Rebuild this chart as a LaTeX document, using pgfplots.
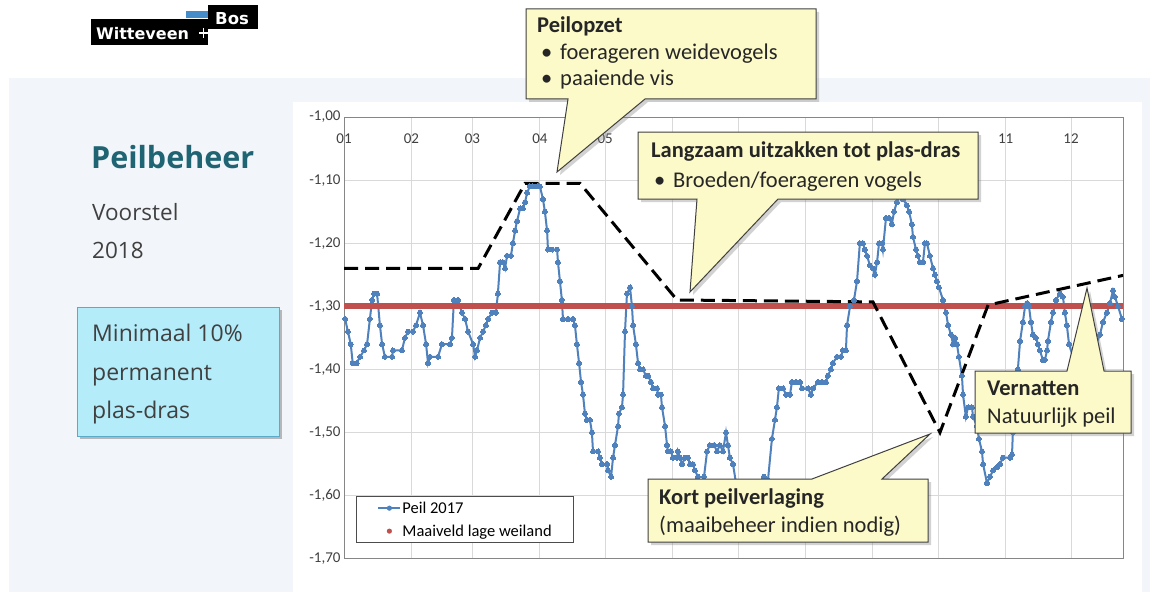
\documentclass[border=0pt]{standalone}
\usepackage{fontspec}
\setmainfont{Carlito}
\newfontfamily\osans{Open Sans}
\newfontfamily\dsans{DejaVu Sans}
\usepackage{pgfplots}
\pgfplotsset{compat=1.18}
\usetikzlibrary{shadows}

\definecolor{panel}{RGB}{242,245,249}
\definecolor{peilblue}{RGB}{79,129,189}
\definecolor{maaired}{RGB}{192,80,77}
\definecolor{callfill}{RGB}{252,250,200}
\definecolor{cyanfill}{RGB}{180,236,250}
\definecolor{cyanedge}{RGB}{90,170,200}
\definecolor{titleteal}{RGB}{30,100,115}
\definecolor{txtgray}{RGB}{64,64,64}
\definecolor{gridgray}{RGB}{217,217,217}
\definecolor{axgray}{RGB}{134,134,134}
\definecolor{logoblue}{RGB}{70,140,200}

\pgfplotstableread{
day val
0.5 -1.32
1.8 -1.34
3.1 -1.36
4.0 -1.39
5.8 -1.39
7.4 -1.38
9.2 -1.37
10.6 -1.36
11.9 -1.32
12.9 -1.29
13.8 -1.28
15.2 -1.28
16.5 -1.33
17.5 -1.36
18.8 -1.38
22.1 -1.38
22.5 -1.37
26.6 -1.37
28.0 -1.35
29.4 -1.34
31.7 -1.34
33.1 -1.33
34.9 -1.31
36.3 -1.33
37.7 -1.36
38.6 -1.39
39.5 -1.38
43.2 -1.38
45.0 -1.36
48.7 -1.36
49.6 -1.35
50.5 -1.29
52.4 -1.29
54.2 -1.31
55.6 -1.32
57.0 -1.34
59.3 -1.36
60.2 -1.38
61.1 -1.37
62.5 -1.35
63.9 -1.34
65.2 -1.33
66.2 -1.32
68.0 -1.31
69.8 -1.31
70.7 -1.28
71.7 -1.23
73.0 -1.23
74.0 -1.24
74.9 -1.22
76.7 -1.22
77.6 -1.20
78.6 -1.18
79.5 -1.165
80.9 -1.145
82.2 -1.145
83.2 -1.135
84.1 -1.12
85.4 -1.11
86.8 -1.11
88.7 -1.11
90.0 -1.11
91.4 -1.13
92.3 -1.15
93.3 -1.18
93.7 -1.21
95.6 -1.21
97.9 -1.21
98.3 -1.23
99.2 -1.26
100.1 -1.29
100.6 -1.32
102.9 -1.32
105.2 -1.32
106.1 -1.33
107.0 -1.36
108.0 -1.39
108.9 -1.42
109.8 -1.44
110.7 -1.47
111.6 -1.48
113.0 -1.48
113.9 -1.50
114.4 -1.53
116.7 -1.53
117.6 -1.54
118.5 -1.55
120.8 -1.55
121.3 -1.56
122.7 -1.57
123.6 -1.54
124.5 -1.52
125.9 -1.49
126.3 -1.47
127.7 -1.46
128.2 -1.44
129.1 -1.34
130.0 -1.28
131.4 -1.27
132.3 -1.30
132.8 -1.33
134.1 -1.36
135.1 -1.39
136.0 -1.40
137.4 -1.40
138.7 -1.41
139.7 -1.41
141.0 -1.42
142.0 -1.43
143.8 -1.43
144.3 -1.44
145.6 -1.44
146.1 -1.46
147.5 -1.49
148.4 -1.52
148.8 -1.53
150.2 -1.53
151.1 -1.54
153.0 -1.54
153.4 -1.53
154.4 -1.54
155.3 -1.55
156.7 -1.54
158.0 -1.54
159.0 -1.55
160.3 -1.55
161.2 -1.56
162.6 -1.57
164.0 -1.58
165.4 -1.57
166.8 -1.53
168.1 -1.52
170.0 -1.52
171.4 -1.53
172.7 -1.52
174.1 -1.53
175.5 -1.50
176.4 -1.52
177.3 -1.54
178.7 -1.55
180.1 -1.58
182.8 -1.60
186.5 -1.61
190.2 -1.59
192.9 -1.57
194.8 -1.575
196.6 -1.51
198.0 -1.48
198.9 -1.46
199.8 -1.43
201.7 -1.43
203.1 -1.44
204.9 -1.44
205.8 -1.42
207.6 -1.42
209.5 -1.42
210.4 -1.43
213.2 -1.43
214.5 -1.44
215.5 -1.43
217.8 -1.42
219.6 -1.42
221.4 -1.42
222.3 -1.41
223.7 -1.40
224.6 -1.39
226.5 -1.38
228.3 -1.38
229.2 -1.37
230.6 -1.37
231.1 -1.33
232.5 -1.30
234.3 -1.29
235.7 -1.26
237.0 -1.20
238.4 -1.20
239.3 -1.21
240.3 -1.22
241.6 -1.235
243.0 -1.24
243.9 -1.25
244.9 -1.23
245.8 -1.20
247.2 -1.20
247.6 -1.21
249.0 -1.16
250.4 -1.16
251.7 -1.17
252.7 -1.15
254.0 -1.135
255.0 -1.125
256.8 -1.13
258.6 -1.14
259.6 -1.15
260.9 -1.17
261.4 -1.19
262.8 -1.21
263.7 -1.22
264.6 -1.23
266.0 -1.23
266.9 -1.20
267.8 -1.20
269.2 -1.22
270.6 -1.24
271.5 -1.25
272.4 -1.26
273.3 -1.27
275.2 -1.29
276.6 -1.31
277.5 -1.33
278.9 -1.345
279.8 -1.36
280.7 -1.35
281.6 -1.36
282.5 -1.38
283.9 -1.41
284.4 -1.44
285.7 -1.475
286.7 -1.46
288.5 -1.46
289.0 -1.475
290.8 -1.49
291.7 -1.51
293.1 -1.53
293.6 -1.55
295.4 -1.58
296.8 -1.57
298.2 -1.56
300.0 -1.555
301.4 -1.55
302.7 -1.54
306.0 -1.54
306.9 -1.535
307.3 -1.50
308.3 -1.45
309.6 -1.40
310.6 -1.355
311.9 -1.325
312.9 -1.30
313.8 -1.295
314.7 -1.30
315.6 -1.325
316.5 -1.345
317.9 -1.35
318.8 -1.36
319.7 -1.37
321.1 -1.385
322.0 -1.385
323.0 -1.37
323.4 -1.355
324.8 -1.325
325.7 -1.31
327.1 -1.29
328.9 -1.28
330.3 -1.285
331.2 -1.31
332.1 -1.33
333.1 -1.36
334.9 -1.38
338.1 -1.40
341.8 -1.39
345.5 -1.36
347.3 -1.345
348.7 -1.325
350.5 -1.31
351.9 -1.295
353.3 -1.275
354.2 -1.285
355.6 -1.30
357.4 -1.32
}\peiltable

\pgfplotstableread{
day val
0 -1.24
61.6 -1.24
83.2 -1.105
108.4 -1.105
153.0 -1.29
243.0 -1.293
273.8 -1.50
295.9 -1.298
357.9 -1.251
}\voorsteltable

\begin{document}
\begin{tikzpicture}
\begin{scope}[x=1pt,y=-1pt]
\path[use as bounding box] (0,0) rectangle (1155,599);
\fill[white] (0,0) rectangle (1155,599);
\fill[panel] (9,78) rectangle (1150,592);
\fill[white] (293,102) rectangle (1142,599);
% logo
\fill[black] (91,19) rectangle (208,45);
\fill[black] (208,5) rectangle (258,29);
\fill[logoblue] (186,11) rectangle (208,18);
\node[anchor=base west, text=white, font=\dsans\bfseries\fontsize{16}{18}\selectfont, inner sep=0] at (96,40) {Witteveen};
\node[anchor=base west, text=white, font=\dsans\bfseries\fontsize{16.5}{18}\selectfont, inner sep=0] at (215,25) {Bos};
\draw[white, line width=1.3pt] (199,33) -- (208,33) (203.5,28) -- (203.5,38);
% left texts
\node[anchor=base west, inner sep=0, text=titleteal, font=\osans\bfseries\fontsize{30.5}{36}\selectfont] at (91,168) {Peilbeheer};
\node[anchor=base west, inner sep=0, text=txtgray, font=\osans\fontsize{22.5}{26}\selectfont] at (92,220) {Voorstel};
\node[anchor=base west, inner sep=0, text=txtgray, font=\osans\fontsize{22.5}{26}\selectfont] at (92,258) {2018};
\fill[black, opacity=0.25] (80,310) rectangle (282,439);
\filldraw[fill=cyanfill, draw=cyanedge, line width=0.8pt] (77,307) rectangle (279,436);
\node[anchor=base west, inner sep=0, text=txtgray, font=\osans\fontsize{23}{26}\selectfont] at (92,341) {Minimaal 10\%};
\node[anchor=base west, inner sep=0, text=txtgray, font=\osans\fontsize{23}{26}\selectfont] at (92,380) {permanent};
\node[anchor=base west, inner sep=0, text=txtgray, font=\osans\fontsize{23}{26}\selectfont] at (92,418) {plas-dras};
\end{scope}

\begin{axis}[
  at={(344pt,-558.7pt)}, anchor=south west,
  scale only axis, width=779pt, height=441.7pt,
  xmin=0, xmax=357.9, ymin=-1.70, ymax=-1.00,
  axis line style={draw=axgray, line width=1pt},
  grid=major, major grid style={draw=gridgray, line width=0.9pt},
  major tick length=0pt,
  xtick={0,31,59,90,120,151,181,212,243,273,304,334},
  xticklabels={01,02,03,04,05,{},{},{},{},{},11,12},
  xticklabel pos=upper,
  xticklabel style={anchor=north, yshift=-13pt},
  ytick={-1.7,-1.6,-1.5,-1.4,-1.3,-1.2,-1.1,-1.0},
  yticklabel style={/pgf/number format/.cd, fixed, fixed zerofill, precision=2, use comma, assume math mode=true},
  tick label style={font=\fontsize{15}{17}\selectfont, text=txtgray},
  legend style={at={(rel axis cs:0.0154,0.0355)}, anchor=south west, draw=black!70, line width=0.8pt,
    font=\fontsize{16.5}{19}\selectfont, cells={anchor=west}, inner xsep=21pt, inner ysep=2pt, row sep=4pt,
    nodes={inner ysep=3pt, inner xsep=1pt},
    /tikz/every odd column/.append style={column sep=-13pt}},
  legend cell align=left,
]
\addplot[peilblue, line width=2pt, mark=*, mark size=2.5pt, mark options={fill=peilblue, draw=peilblue, line width=0pt},
  legend image code/.code={\draw[peilblue, line width=2pt] (0pt,0pt) -- (22pt,0pt); \fill[peilblue, draw=none] (11pt,0pt) circle (2.6pt);}]
  table[x=day, y=val] {\peiltable};
\addlegendentry{Peil 2017}
\addplot[maaired, line width=6pt,
  legend image code/.code={\node[inner sep=0pt, minimum width=22pt, minimum height=1pt, draw=none, fill=none] at (11pt,0pt) {}; \fill[maaired, draw=none, line width=0pt] (11pt,0pt) circle (2.6pt);}]
  coordinates {(0,-1.30) (357.9,-1.30)};
\addlegendentry{Maaiveld lage weiland}
\addplot[black, line width=3pt, dash pattern=on 14pt off 7pt, forget plot] table[x=day, y=val] {\voorsteltable};
\end{axis}

\begin{scope}[x=1pt,y=-1pt, every node/.style={anchor=base west, inner sep=0, text=black!85}]
\tikzset{callout/.style={fill=callfill, draw=black!75, line width=1pt, drop shadow={opacity=0.35, shadow xshift=3pt, shadow yshift=-3pt}}}
% Peilopzet
\path[callout] (526,9) -- (816,9) -- (816,99) -- (645,99) -- (557,172) -- (568,99) -- (526,99) -- cycle;
\node[font=\bfseries\fontsize{22.5}{26}\selectfont] at (537,33) {Peilopzet};
\node[font=\fontsize{22.5}{26}\selectfont] at (541,60) {•};
\node[font=\fontsize{22.5}{26}\selectfont] at (560,60) {foerageren weidevogels};
\node[font=\fontsize{22.5}{26}\selectfont] at (541,86) {•};
\node[font=\fontsize{22.5}{26}\selectfont] at (560,86) {paaiende vis};
% Langzaam
\path[callout] (638,132) -- (978,132) -- (978,199) -- (778,199) -- (690,292) -- (697,199) -- (638,199) -- cycle;
\node[font=\bfseries\fontsize{22.5}{26}\selectfont] at (651,157) {Langzaam uitzakken tot plas-dras};
\node[font=\fontsize{22.5}{26}\selectfont] at (654,187) {•};
\node[font=\fontsize{22.5}{26}\selectfont] at (673,187) {Broeden/foerageren vogels};
% Kort
\path[callout] (648,479) -- (812,479) -- (930,434) -- (882,479) -- (928,479) -- (928,542) -- (648,542) -- cycle;
\node[font=\bfseries\fontsize{22.5}{26}\selectfont] at (659,504) {Kort peilverlaging};
\node[font=\fontsize{22.5}{26}\selectfont] at (659,532) {(maaibeheer indien nodig)};
% Vernatten
\path[callout] (975,371) -- (1067,371) -- (1087,288) -- (1104,371) -- (1131,371) -- (1131,433) -- (975,433) -- cycle;
\node[font=\bfseries\fontsize{22.5}{26}\selectfont] at (987,395) {Vernatten};
\node[font=\fontsize{22.5}{26}\selectfont] at (987,423) {Natuurlijk peil};
\end{scope}
\end{tikzpicture}
\end{document}
